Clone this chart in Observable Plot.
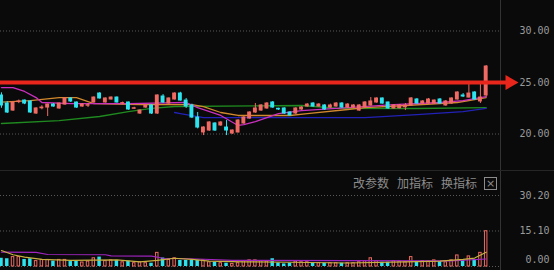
<!DOCTYPE html>
<html><head><meta charset="utf-8">
<script src="https://cdn.jsdelivr.net/npm/d3@7"></script>
<script src="https://cdn.jsdelivr.net/npm/@observablehq/plot@0.6"></script>
<style>
html,body{margin:0;padding:0;background:#0a0a0a;}
#wrap{position:relative;width:554px;height:270px;background:#0a0a0a;overflow:hidden;}
#price,#vol{position:absolute;left:0;}
#price{top:0}
#vol{top:170px}
#sep{position:absolute;left:0;top:170px;width:554px;height:1px;background:#262626}
.tb{position:absolute;top:175px;font:12px "Noto Sans CJK SC";color:#8c8c8c;white-space:nowrap;line-height:16px}
#xbox{position:absolute;left:484px;top:177px;width:11px;height:11px;border:1px solid #8c8c8c;color:#8c8c8c;font:11px "DejaVu Sans";line-height:11px;text-align:center}
</style></head><body>
<div id="wrap">
  <div id="price"></div>
  <div id="vol"></div>
  <div id="sep"></div>
  <span class="tb" style="left:353px">改参数</span>
  <span class="tb" style="left:397px">加指标</span>
  <span class="tb" style="left:441px">换指标</span>
  <span id="xbox">×</span>
</div>
<script>
// ---- candle data (index 0..84) ----
const open = [23.74,22.96,22.28,23.10,23.25,23.16,21.99,22.50,22.57,22.86,
22.48,22.86,23.45,23.06,22.67,22.75,23.06,23.93,23.06,23.35,
23.54,22.96,23.06,22.45,21.99,22.57,22.77,21.99,23.64,22.96,
23.35,23.93,23.25,22.77,21.60,20.15,20.34,21.02,20.83,20.63,
20.05,20.15,21.02,21.50,22.09,22.28,22.48,23.06,22.45,22.48,
22.09,21.99,22.38,22.67,22.96,22.67,22.77,22.57,22.67,22.96,
22.57,22.57,22.28,22.57,22.77,23.06,23.45,23.06,22.48,22.50,
22.60,22.77,23.35,22.96,22.96,22.96,23.35,22.77,22.96,23.35,
23.74,23.54,24.03,23.16,23.74];
const close = [22.77,22.09,23.06,23.16,22.96,22.09,22.48,22.57,22.86,22.67,
22.96,23.45,23.16,22.57,22.86,22.80,23.54,23.45,23.45,23.54,
23.06,23.00,22.38,22.50,22.28,22.77,21.99,23.74,23.06,23.45,
23.93,23.25,22.67,21.60,20.63,20.63,21.12,20.34,21.12,20.34,
20.34,21.31,21.60,22.09,22.48,22.77,22.96,22.57,22.38,21.99,
21.80,22.48,22.57,22.86,22.67,22.86,22.38,22.77,22.96,22.57,
22.86,22.77,22.77,23.06,23.16,23.45,22.96,22.48,22.77,22.77,
22.77,23.45,22.96,23.16,23.35,23.25,22.96,23.16,23.45,24.03,
23.64,23.93,23.35,23.54,26.55];
const high = [24.00,23.15,23.15,23.30,23.30,23.20,22.55,22.75,22.90,22.95,
23.00,23.50,23.50,23.10,22.95,22.96,23.60,24.00,23.50,23.60,
23.60,23.10,23.10,22.60,22.35,22.85,22.85,23.80,23.83,23.50,
24.00,24.05,23.45,22.90,22.09,20.70,21.20,21.10,21.20,21.31,
20.40,21.40,21.70,22.15,22.96,22.85,23.05,23.15,22.50,22.55,
22.15,22.55,22.65,22.95,23.05,22.95,22.85,22.90,23.05,23.05,
22.95,22.85,22.85,23.15,23.54,23.50,23.50,23.10,22.85,22.85,
22.96,23.54,23.45,23.25,23.45,23.30,23.45,23.25,23.50,24.10,
23.93,24.90,24.10,24.90,26.65];
const low = [22.50,21.99,22.20,22.95,22.85,22.00,21.90,22.35,21.70,22.60,
22.40,22.80,23.06,22.50,22.60,22.57,23.00,23.40,23.00,23.30,
23.00,22.85,22.30,22.40,21.90,22.50,21.90,21.90,22.96,22.90,
23.30,23.20,22.48,21.50,20.50,19.85,20.25,20.25,20.75,19.85,
19.95,20.10,20.95,21.45,22.00,22.20,22.40,22.50,22.28,21.90,
21.75,21.90,22.30,22.60,22.60,22.60,22.30,22.50,22.60,22.50,
22.50,22.50,22.20,22.50,22.70,23.00,22.90,22.40,22.40,22.45,
22.28,22.70,22.90,22.90,22.90,22.90,22.90,22.70,22.90,23.30,
23.54,23.50,23.30,22.96,23.60];
const volume = [3.5,3.3,4.0,4.0,3.0,3.3,2.3,2.8,2.8,2.3,
2.8,2.8,2.1,2.3,1.7,2.1,3.5,4.0,2.3,2.6,
2.6,1.8,2.3,1.4,1.8,1.4,1.4,5.8,3.6,2.8,
3.5,2.6,2.6,2.6,2.6,2.6,1.8,1.8,1.4,1.4,
1.1,1.4,2.3,2.6,2.6,2.3,2.1,3.3,1.5,1.1,
1.4,2.1,1.8,1.8,1.5,1.4,1.4,1.4,1.4,1.4,
1.4,1.4,1.8,2.3,3.5,2.3,1.8,1.8,2.3,2.1,
1.8,4.0,2.1,2.3,2.1,2.6,2.1,1.8,2.6,4.7,
2.6,4.3,3.0,5.8,15.0];

// ---- moving averages (read at knots: index, value) ----
const maOrangeIdx = [0,5,10,13,14,16,24,29,33,35,38,41,50,53,60,63,70,79,84];
const maOrangeVal = [23.10,23.25,23.54,23.54,23.35,22.96,22.86,22.86,22.86,22.67,22.09,21.80,21.80,21.99,22.38,22.57,22.77,23.06,23.54];
const maPinkIdx = [0,2,4,6,7,12,22,32,34,38,41,42,44,46,48,52,60,68,76,80,84];
const maPinkVal = [24.51,24.51,24.13,23.54,23.06,22.96,22.96,23.06,22.57,21.80,20.83,20.92,21.21,21.60,21.99,22.28,22.57,22.86,23.06,23.25,23.64];
const maGreenIdx = [0,10,17,22,26,30,52,58,72,84];
const maGreenVal = [21.02,21.31,21.70,22.18,22.48,22.67,22.77,22.50,22.48,22.57];
const maBlueIdx = [30,31,35,52,63,72,80,84];
const maBlueVal = [22.09,21.99,21.60,21.60,21.60,21.89,22.18,22.48];

const volMaYellowIdx = [0,2,4,7,12,20,24,27,30,33,36,42,50,60,70,76,80,82,84];
const volMaYellowVal = [6.8,5.0,4.0,3.0,2.6,2.8,2.0,2.6,3.5,3.0,2.3,2.0,1.8,1.5,2.0,2.3,3.0,3.6,6.1];
const volMaPurpleIdx = [0,6,8,18,19,26,28,34,40,60,78,84];
const volMaPurpleVal = [6.1,6.0,5.1,5.0,4.5,4.4,3.5,3.2,2.6,2.5,2.4,3.2];

// ---- ticks & annotation ----
const priceTicks = [20, 25, 30];
const volTicks = [0, 15.10, 30.20];
const targetPrice = 25;
const arrowFrom = -0.2, arrowTo = 88.1;

const UP = "#ee6a62", DOWN = "#2fe3ee";
const candles = open.map((o, i) => ({i, o, c: close[i], h: high[i], l: low[i], v: volume[i], up: close[i] >= o}));
const knots = (idx, val) => idx.map((i, k) => ({i, v: val[k]}));

const xScale = {domain: [-0.173, 86.48], range: [0, 500], axis: null};
const labelStyle = {fill: "#9a9a9a", fontSize: 10, fontFamily: "DejaVu Sans Mono", frameAnchor: "right", textAnchor: "end", dx: 49};

const price = Plot.plot({
  width: 554, height: 170, marginLeft: 0, marginRight: 54, marginTop: 0, marginBottom: 0,
  style: {background: "transparent", overflow: "visible"},
  x: xScale,
  y: {domain: [16.46, 32.96], range: [170, 0], axis: null},
  color: {type: "identity"},
  marks: [
    Plot.gridY(priceTicks, {stroke: "#5a5a5a", strokeOpacity: 1, strokeDasharray: "1,2"}),
    Plot.frame({anchor: "right", stroke: "#333", strokeOpacity: 1}),
    Plot.line(knots(maGreenIdx, maGreenVal), {x: "i", y: "v", stroke: "#1f8a1f", strokeWidth: 1.3}),
    Plot.line(knots(maBlueIdx, maBlueVal), {x: "i", y: "v", stroke: "#2222b8", strokeWidth: 1.3}),
    Plot.line(knots(maOrangeIdx, maOrangeVal), {x: "i", y: "v", stroke: "#d2882c", strokeWidth: 1.3}),
    Plot.line(knots(maPinkIdx, maPinkVal), {x: "i", y: "v", stroke: "#cc30c0", strokeWidth: 1.3}),
    Plot.ruleX(candles, {x: "i", y1: "l", y2: "h", stroke: d => d.up ? UP : DOWN, strokeWidth: 1}),
    Plot.rect(candles, {x1: d => d.i - 0.34, x2: d => d.i + 0.34, y1: d => Math.min(d.o, d.c), y2: d => Math.max(d.o, d.c),
      fill: d => d.up ? UP : DOWN, insetTop: -0.5, insetBottom: -0.5}),
    Plot.ruleY([{y: targetPrice, x1: arrowFrom, x2: arrowTo}], {y: "y", x1: "x1", x2: "x2", stroke: "#e8261c", strokeWidth: 4}),
    Plot.dot([{x: arrowTo, y: targetPrice}], {x: "x", y: "y", symbol: "triangle", r: 5.6, rotate: 90, fill: "#e8261c", stroke: "none"}),
    Plot.text(priceTicks, {y: d => d, text: d => d.toFixed(2), ...labelStyle})
  ]
});
document.getElementById("price").append(price);

const vol = Plot.plot({
  width: 554, height: 100, marginLeft: 0, marginRight: 54, marginTop: 0, marginBottom: 0,
  style: {background: "transparent", overflow: "visible"},
  x: xScale,
  y: {domain: [-1.70, 40.83], range: [100, 0], axis: null},
  color: {type: "identity"},
  marks: [
    Plot.gridY(volTicks, {stroke: "#5a5a5a", strokeOpacity: 1, strokeDasharray: "1,2"}),
    Plot.frame({anchor: "right", stroke: "#333", strokeOpacity: 1}),
    Plot.rect(candles.filter(d => !d.up), {x1: d => d.i - 0.3, x2: d => d.i + 0.3, y1: 0, y2: "v", fill: DOWN}),
    Plot.rect(candles.filter(d => d.up), {x1: d => d.i - 0.3, x2: d => d.i + 0.3, y1: 0, y2: "v", fill: "none", stroke: UP, strokeWidth: 1, insetLeft: 0.5, insetRight: 0.5}),
    Plot.line(knots(volMaPurpleIdx, volMaPurpleVal), {x: "i", y: "v", stroke: "#a024c0", strokeWidth: 1.2}),
    Plot.line(knots(volMaYellowIdx, volMaYellowVal), {x: "i", y: "v", stroke: "#c8b040", strokeWidth: 1.2}),
    Plot.text(volTicks.filter(d => d > 0), {y: d => d, text: d => d.toFixed(2), ...labelStyle}),
    Plot.text(volTicks.filter(d => d === 0), {y: d => d, text: d => d.toFixed(2), ...labelStyle, dy: -7})
  ]
});
document.getElementById("vol").append(vol);
</script>
</body></html>
